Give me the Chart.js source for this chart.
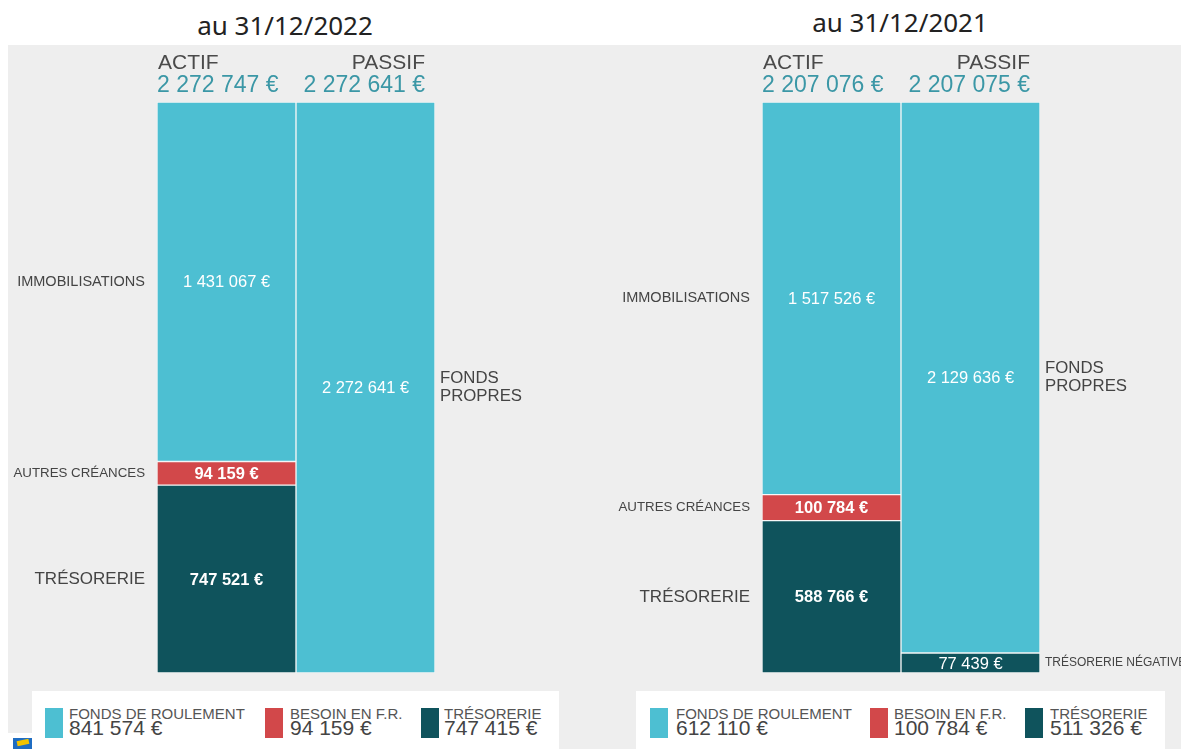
<!DOCTYPE html>
<html lang="fr">
<head>
<meta charset="utf-8">
<title>Bilan simplifié</title>
<script src="https://cdn.jsdelivr.net/npm/chart.js@4.4.1/dist/chart.umd.min.js"></script>
<style>
  html, body { margin: 0; padding: 0; background: #fff; }
  #page { position: relative; width: 1181px; height: 749px; overflow: hidden; font-family: 'Liberation Sans', Arial, sans-serif; }
  .panel { position: absolute; left: 8px; top: 45px; width: 1173px; height: 704px; background: #eeeeee; }
  .corner { position: absolute; left: 0; top: 733px; width: 32px; height: 16px; background: #fff; }
  .logo { position: absolute; left: 13px; top: 738px; width: 19px; height: 11px; background: #1f6dc2; overflow: hidden; }
  .logo i { position: absolute; left: 4px; top: 2px; width: 12px; height: 5px; background: #f3c300; transform: rotate(-12deg); }
  .title { position: absolute; font-family: 'Noto Sans', sans-serif; font-size: 26px; line-height: 26px; color: #222; transform: translateX(-50%); white-space: nowrap; }
  canvas { position: absolute; top: 0; }
  .legend { position: absolute; top: 691px; height: 58px; background: #fff; }
  .sw { position: absolute; top: 17px; width: 18px; height: 30px; }
  .lab { position: absolute; top: 15px; font-size: 15px; line-height: 15px; color: #555; white-space: nowrap; }
  .val { position: absolute; top: 26px; font-size: 21px; line-height: 21px; color: #444; white-space: nowrap; }
</style>
</head>
<body>
<div id="page">
  <div class="panel"></div>
  <div class="corner"></div>
  <div class="logo"><i></i></div>
  <div class="title" id="title0" style="left:285px; top:12px;"></div>
  <div class="title" id="title1" style="left:900px; top:9px;"></div>
  <canvas id="chart2022" width="590" height="749" style="left:0;"></canvas>
  <canvas id="chart2021" width="591" height="749" style="left:590px;"></canvas>
  <div class="legend" id="legend0" style="left:32px; width:527px;"></div>
  <div class="legend" id="legend1" style="left:636px; width:529px;"></div>
</div>
<script>
const titles = ['au 31/12/2022', 'au 31/12/2021'];
const sides = ['ACTIF', 'PASSIF'];

// au 31/12/2022 (du bas vers le haut : trésorerie, créances, immobilisations / fonds propres)
const tresorerie2022 = [747521, null];
const creances2022 = [94159, null];
const immobilisations2022 = [1431067, 2272641];
const totals2022 = [2272747, 2272641];

// au 31/12/2021
const tresorerie2021 = [588766, 77439];
const creances2021 = [100784, null];
const immobilisations2021 = [1517526, 2129636];
const totals2021 = [2207076, 2207075];

const actifLabels = ['TRÉSORERIE', 'AUTRES CRÉANCES', 'IMMOBILISATIONS'];
const passifLabels = ['TRÉSORERIE NÉGATIVE', '', 'FONDS PROPRES'];

const legendLabels = ['FONDS DE ROULEMENT', 'BESOIN EN F.R.', 'TRÉSORERIE'];
const legend2022 = [841574, 94159, 747415];
const legend2021 = [612110, 100784, 511326];

const colors = ['#0f535c', '#d2484a', '#4dbfd2'];
const legendColors = ['#4dbfd2', '#d2484a', '#0f535c'];

const fmt = (v) => String(v).replace(/\B(?=(\d{3})+(?!\d))/g, ' ') + ' €';

const actifFont = [17, 13.3, 14.5];
const passifFont = [12, 13, 16.8];

const labelsPlugin = {
  id: 'bilanLabels',
  afterDatasetsDraw(chart, args, opts) {
    const { ctx, chartArea } = chart;
    const totals = opts.totals;
    ctx.save();

    // en-têtes ACTIF / PASSIF
    ctx.textBaseline = 'alphabetic';
    ctx.font = '21px "Liberation Sans", Arial, sans-serif';
    ctx.fillStyle = '#4a4a4a';
    ctx.textAlign = 'left';
    ctx.fillText(sides[0], chartArea.left + 1, 69);
    ctx.textAlign = 'right';
    ctx.fillText(sides[1], chartArea.right - 10, 69);
    ctx.font = '23px "Liberation Sans", Arial, sans-serif';
    ctx.fillStyle = '#3b97a6';
    ctx.textAlign = 'left';
    ctx.fillText(fmt(totals[0]), chartArea.left, 92);
    ctx.textAlign = 'right';
    ctx.fillText(fmt(totals[1]), chartArea.right - 10, 92);

    chart.data.datasets.forEach((ds, i) => {
      const meta = chart.getDatasetMeta(i);
      meta.data.forEach((bar, j) => {
        const v = ds.data[j];
        if (v === null || v === undefined) return;
        const cy = (bar.y + bar.base) / 2;

        // valeur dans la barre
        ctx.fillStyle = '#ffffff';
        ctx.textAlign = 'center';
        ctx.textBaseline = 'middle';
        const bold = j === 0 && i < 2 ? 'bold ' : '';
        ctx.font = bold + '16.5px "Liberation Sans", Arial, sans-serif';
        ctx.fillText(fmt(v), bar.x, cy + 1);

        // libellé à côté
        ctx.fillStyle = '#444';
        if (j === 0) {
          ctx.textAlign = 'right';
          ctx.font = actifFont[i] + 'px "Liberation Sans", Arial, sans-serif';
          ctx.fillText(actifLabels[i], chartArea.left - 12, cy);
        } else {
          ctx.textAlign = 'left';
          ctx.font = passifFont[i] + 'px "Liberation Sans", Arial, sans-serif';
          const lines = i === 2 ? passifLabels[i].split(' ') : [passifLabels[i]];
          lines.forEach((line, k) => {
            ctx.fillText(line, chartArea.right + 5, cy + (k - (lines.length - 1) / 2) * 18);
          });
        }
      });
    });
    ctx.restore();
  }
};

function makeChart(id, tresorerie, creances, immobilisations, totals, padLeft, padRight) {
  const values = [tresorerie, creances, immobilisations];
  return new Chart(document.getElementById(id), {
    type: 'bar',
    data: {
      labels: sides,
      datasets: values.map((data, i) => ({
        label: actifLabels[i],
        data: data,
        backgroundColor: colors[i]
      }))
    },
    options: {
      responsive: false,
      animation: false,
      events: [],
      layout: { padding: { left: padLeft, right: padRight, top: 102, bottom: 76 } },
      plugins: {
        legend: { display: false },
        tooltip: { enabled: false },
        bilanLabels: { totals: totals }
      },
      datasets: {
        bar: {
          categoryPercentage: 1,
          barPercentage: 1,
          borderWidth: 1,
          borderColor: 'rgba(255,255,255,0.45)',
          borderSkipped: false
        }
      },
      scales: {
        x: { stacked: true, display: false },
        y: { stacked: true, display: false, min: 0, max: totals[0] }
      }
    },
    plugins: [labelsPlugin]
  });
}

function buildLegend(id, values, swLeft, textLeft) {
  const box = document.getElementById(id);
  legendLabels.forEach((label, i) => {
    const sw = document.createElement('div');
    sw.className = 'sw';
    sw.style.left = swLeft[i] + 'px';
    sw.style.background = legendColors[i];
    box.appendChild(sw);
    const lab = document.createElement('div');
    lab.className = 'lab';
    lab.style.left = textLeft[i] + 'px';
    lab.textContent = label;
    box.appendChild(lab);
    const val = document.createElement('div');
    val.className = 'val';
    val.style.left = textLeft[i] + 'px';
    val.textContent = fmt(values[i]);
    box.appendChild(val);
  });
}

document.getElementById('title0').textContent = titles[0];
document.getElementById('title1').textContent = titles[1];

makeChart('chart2022', tresorerie2022, creances2022, immobilisations2022, totals2022, 157, 155);
makeChart('chart2021', tresorerie2021, creances2021, immobilisations2021, totals2021, 172, 141);

buildLegend('legend0', legend2022, [13, 233, 389], [37, 258, 412]);
buildLegend('legend1', legend2021, [14, 234, 389], [40, 258, 414]);
</script>
</body>
</html>
